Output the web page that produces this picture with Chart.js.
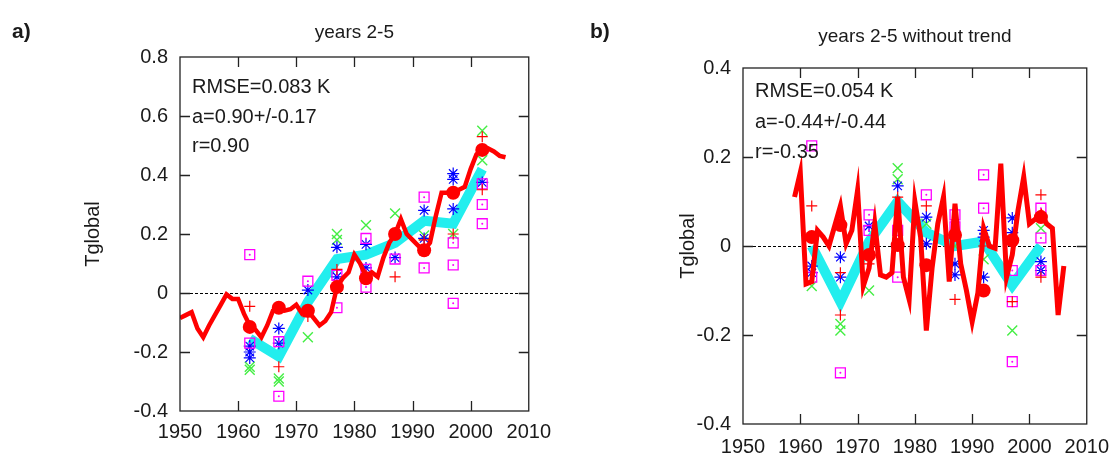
<!DOCTYPE html>
<html>
<head>
<meta charset="utf-8">
<script src="https://cdn.jsdelivr.net/npm/chart.js@4.4.1/dist/chart.umd.min.js"></script>
<style>
  body { margin: 0; background: #fff; }
  #wrap { position: relative; width: 1120px; height: 454px; }
  canvas { position: absolute; top: 0; }
</style>
</head>
<body>
<div id="wrap">
  <canvas id="chartA" width="560" height="454" style="left:0"></canvas>
  <canvas id="chartB" width="560" height="454" style="left:560px"></canvas>
</div>
<script>
// hindcast start years (markers, red circles, cyan line)
const startYears = [1962, 1967, 1972, 1977, 1982, 1987, 1992, 1997, 2002];

// ---- panel a) years 2-5 ----
const obsYearsA = [1950, 1951, 1952, 1953, 1954, 1955, 1956, 1957, 1958, 1959,
    1960, 1961, 1962, 1963, 1964, 1965, 1966, 1967, 1968, 1969,
    1970, 1971, 1972, 1973, 1974, 1975, 1976, 1977, 1978, 1979,
    1980, 1981, 1982, 1983, 1984, 1985, 1986, 1987, 1988, 1989,
    1990, 1991, 1992, 1993, 1994, 1995, 1996, 1997, 1998, 1999,
    2000, 2001, 2002, 2003, 2004, 2005, 2006];
const obsA = [-0.085, -0.075, -0.065, -0.12, -0.15, -0.11, -0.075, -0.04, -0.005, -0.02,
    -0.02, -0.07, -0.11, -0.125, -0.15, -0.11, -0.06, -0.05, -0.06, -0.055,
    -0.04, -0.07, -0.06, -0.085, -0.11, -0.095, -0.065, 0.02, 0.05, 0.07,
    0.13, 0.1, 0.055, 0.07, 0.055, 0.12, 0.17, 0.2, 0.25, 0.2,
    0.18, 0.16, 0.145, 0.17, 0.26, 0.34, 0.34, 0.34, 0.35, 0.36,
    0.42, 0.47, 0.485, 0.49, 0.48, 0.465, 0.46];
const circlesA = [-0.115, -0.05, -0.06, 0.02, 0.05, 0.2, 0.145, 0.34, 0.485];
const meanA = [-0.155, -0.215, -0.03, 0.115, 0.13, 0.17, 0.245, 0.235, 0.42];
const plusA = [[-0.045], [-0.25], [-0.08], [0.08], [0.06], [0.055], [0.18], [0.2], [0.53, 0.35]];
const crossA = [[-0.25, -0.26], [-0.29, -0.3], [-0.15], [0.2, 0.18], [0.23], [0.27], [0.195], [0.2], [0.55, 0.45]];
const starA = [[-0.18, -0.2, -0.22], [-0.12, -0.17], [0.01], [0.155, 0.055], [0.165, 0.085], [0.12], [0.28, 0.185], [0.405, 0.385, 0.285], [0.375]];
const squareA = [[0.13, -0.17], [-0.165, -0.35], [0.04], [0.06, -0.05], [0.185, 0.08, 0.02], [0.115], [0.325, 0.085], [0.17, 0.095, -0.035], [0.37, 0.3, 0.235]];
const yTicksA = [-0.4, -0.2, 0, 0.2, 0.4, 0.6, 0.8];

// ---- panel b) years 2-5 without trend ----
const obsYearsB = [1959, 1960, 1961, 1962, 1963, 1964, 1965, 1966, 1967, 1968, 1969,
    1970, 1971, 1972, 1973, 1974, 1975, 1976, 1977, 1978, 1979,
    1980, 1981, 1982, 1983, 1984, 1985, 1986, 1987, 1988, 1989,
    1990, 1991, 1992, 1993, 1994, 1995, 1996, 1997, 1998, 1999,
    2000, 2001, 2002, 2003, 2004, 2005, 2006];
const obsB = [0.11, 0.165, -0.085, -0.08, 0.035, 0.02, 0.0, 0.045, 0.09, 0.005, 0.035,
    0.125, -0.09, -0.05, 0.05, -0.065, -0.07, -0.06, 0.11, -0.07, -0.12,
    0.1, 0.02, -0.19, -0.05, 0.05, 0.11, -0.08, 0.095, -0.04, -0.1,
    -0.17, -0.105, 0.04, 0.0, -0.005, 0.185, -0.07, -0.02, 0.08, 0.155,
    0.05, 0.06, 0.075, 0.05, 0.04, -0.155, -0.045];
const circlesB = [0.02, 0.047, -0.02, 0.002, -0.043, 0.025, -0.1, 0.013, 0.065];
const meanB = [0.0, -0.125, 0.01, 0.1, 0.03, 0.0, 0.01, -0.088, 0.0];
const plusB = [[0.09], [-0.06, -0.155], [-0.04], [0.11], [0.09], [-0.12], [0.0], [-0.125], [0.115, -0.07]];
const crossB = [[-0.09], [-0.175, -0.19], [-0.1], [0.175, 0.15], [0.05], [0.0], [-0.03], [-0.19], [0.04]];
const starB = [[-0.045, -0.06], [-0.025, -0.07], [0.045], [0.135], [0.065, 0.005], [-0.04, -0.065], [0.035, 0.02, -0.07], [0.063, 0.03], [-0.035, -0.055]];
const squareB = [[0.225, -0.07], [-0.285], [0.07, 0.035], [0.035, -0.07], [0.115], [0.07, 0.043], [0.16, 0.085], [-0.055, -0.125, -0.26], [0.085, 0.018, -0.055]];
const yTicksB = [-0.4, -0.2, 0, 0.2, 0.4];

const xTicks = [1950, 1960, 1970, 1980, 1990, 2000, 2010];

const FONT = '"Liberation Sans", Arial, sans-serif';
const TEXT = '#1a1a1a';

function pairs(xs, ys) {
    return ys.map((v, i) => ({ x: xs[i], y: v }));
}
function members(lists) {
    const out = [];
    lists.forEach((vals, i) => vals.forEach(v => out.push({ x: startYears[i], y: v })));
    return out;
}

// border, inner ticks (gnuplot style), zero line and texts
function framePlugin(cfg) {
    return {
        id: 'frame',
        beforeDatasetsDraw(chart) {
            const { ctx, chartArea: a, scales: { y } } = chart;
            const y0 = Math.round(y.getPixelForValue(0)) + 0.5;
            ctx.save();
            ctx.strokeStyle = '#000';
            ctx.lineWidth = 1;
            ctx.setLineDash([3, 2]);
            ctx.beginPath();
            ctx.moveTo(a.left, y0);
            ctx.lineTo(a.right, y0);
            ctx.stroke();
            ctx.restore();
        },
        afterDraw(chart) {
            const { ctx, chartArea: a, scales: { x, y } } = chart;
            ctx.save();
            ctx.strokeStyle = '#222';
            ctx.lineWidth = 1.3;
            ctx.strokeRect(a.left, a.top, a.right - a.left, a.bottom - a.top);
            const tl = 10;
            ctx.beginPath();
            x.ticks.slice(1, -1).forEach(t => {
                const px = Math.round(x.getPixelForValue(t.value)) + 0.5;
                ctx.moveTo(px, a.bottom); ctx.lineTo(px, a.bottom - tl);
                ctx.moveTo(px, a.top); ctx.lineTo(px, a.top + tl);
            });
            y.ticks.slice(1, -1).forEach(t => {
                const py = Math.round(y.getPixelForValue(t.value)) + 0.5;
                ctx.moveTo(a.left, py); ctx.lineTo(a.left + tl, py);
                ctx.moveTo(a.right, py); ctx.lineTo(a.right - tl, py);
            });
            ctx.stroke();

            ctx.fillStyle = TEXT;
            ctx.textBaseline = 'alphabetic';
            // panel letter
            ctx.font = 'bold 21px ' + FONT;
            ctx.textAlign = 'left';
            ctx.fillText(cfg.letter, cfg.letterX, 38);
            // title
            ctx.font = '19px ' + FONT;
            ctx.textAlign = 'center';
            ctx.fillText(cfg.title, (a.left + a.right) / 2, cfg.titleY);
            // statistics
            ctx.font = '20px ' + FONT;
            ctx.textAlign = 'left';
            cfg.notes.forEach((s, i) => ctx.fillText(s, a.left + cfg.noteDx, cfg.noteY + i * cfg.noteStep));
            ctx.restore();
        }
    };
}

function buildChart(id, d) {
    const datasets = [
        { data: pairs(startYears, d.circles), pointStyle: 'circle', pointRadius: 7,
          backgroundColor: '#ff0000', borderColor: '#ff0000', borderWidth: 0, order: 1 },
        { data: pairs(d.obsYears, d.obs), showLine: true, borderColor: '#ff0000', borderWidth: d.redWidth,
          pointRadius: 0, borderJoinStyle: 'miter', order: 2 },
        { data: members(d.plus), pointStyle: 'cross', pointRadius: 5.5, borderColor: '#ff0000',
          borderWidth: 1.2, order: 3 },
        { data: members(d.square), pointStyle: 'circle', pointRadius: 1, backgroundColor: '#ff00ff',
          borderColor: '#ff00ff', borderWidth: 0, order: 4 },
        { data: members(d.square), pointStyle: 'rect', pointRadius: 7, backgroundColor: 'rgba(0,0,0,0)',
          borderColor: '#ff00ff', borderWidth: 1.3, order: 5 },
        { data: members(d.star), pointStyle: 'star', pointRadius: 6, borderColor: '#0000ff',
          borderWidth: 1.2, order: 6 },
        { data: members(d.cross), pointStyle: 'crossRot', pointRadius: 7, borderColor: '#44ee44',
          borderWidth: 1.4, order: 7 },
        { data: pairs(startYears, d.mean), showLine: true, borderColor: '#22eeee', borderWidth: 10,
          pointRadius: 0, borderJoinStyle: 'miter', order: 8 }
    ];

    return new Chart(document.getElementById(id), {
        type: 'scatter',
        data: { datasets: datasets },
        options: {
            responsive: false,
            animation: false,
            devicePixelRatio: 1,
            layout: { padding: d.padding },
            plugins: { legend: { display: false }, tooltip: { enabled: false } },
            scales: {
                x: {
                    type: 'linear', min: 1950, max: 2010,
                    afterBuildTicks: s => { s.ticks = xTicks.map(v => ({ value: v })); },
                    afterFit: s => { s.height = d.xHeight; },
                    grid: { display: false, drawTicks: false },
                    border: { display: false },
                    ticks: { color: TEXT, font: { family: FONT, size: 20 }, padding: d.xPad,
                             maxRotation: 0, autoSkip: false, callback: v => String(v) }
                },
                y: {
                    type: 'linear', min: d.yTicks[0], max: d.yTicks[d.yTicks.length - 1],
                    afterBuildTicks: s => { s.ticks = d.yTicks.map(v => ({ value: v })); },
                    afterFit: s => { s.width = d.yWidth; },
                    grid: { display: false, drawTicks: false },
                    border: { display: false },
                    title: { display: true, text: 'Tglobal', color: TEXT,
                             font: { family: FONT, size: 20 }, padding: { top: 4, bottom: 4 } },
                    ticks: { color: TEXT, font: { family: FONT, size: 20 }, padding: 12,
                             callback: v => String(Number(v.toFixed(1))) }
                }
            }
        },
        plugins: [framePlugin(d.frame)]
    });
}

buildChart('chartA', {
    obsYears: obsYearsA, obs: obsA, circles: circlesA, mean: meanA,
    plus: plusA, cross: crossA, star: starA, square: squareA, yTicks: yTicksA,
    padding: { left: 77, right: 25, top: 57, bottom: 0 }, yWidth: 103, xHeight: 43, xPad: 9,
    redWidth: 4.5,
    frame: { letter: 'a)', letterX: 12, title: 'years 2-5', titleY: 38,
             notes: ['RMSE=0.083 K', 'a=0.90+/-0.17', 'r=0.90'], noteDx: 12, noteY: 93, noteStep: 29.5 }
});

buildChart('chartB', {
    obsYears: obsYearsB, obs: obsB, circles: circlesB, mean: meanB,
    plus: plusB, cross: crossB, star: starB, square: squareB, yTicks: yTicksB,
    padding: { left: 112, right: 31, top: 68, bottom: 0 }, yWidth: 71, xHeight: 30, xPad: 11,
    redWidth: 5,
    frame: { letter: 'b)', letterX: 30, title: 'years 2-5 without trend', titleY: 42,
             notes: ['RMSE=0.054 K', 'a=-0.44+/-0.44', 'r=-0.35'], noteDx: 12, noteY: 97, noteStep: 30.5 }
});
</script>
</body>
</html>
